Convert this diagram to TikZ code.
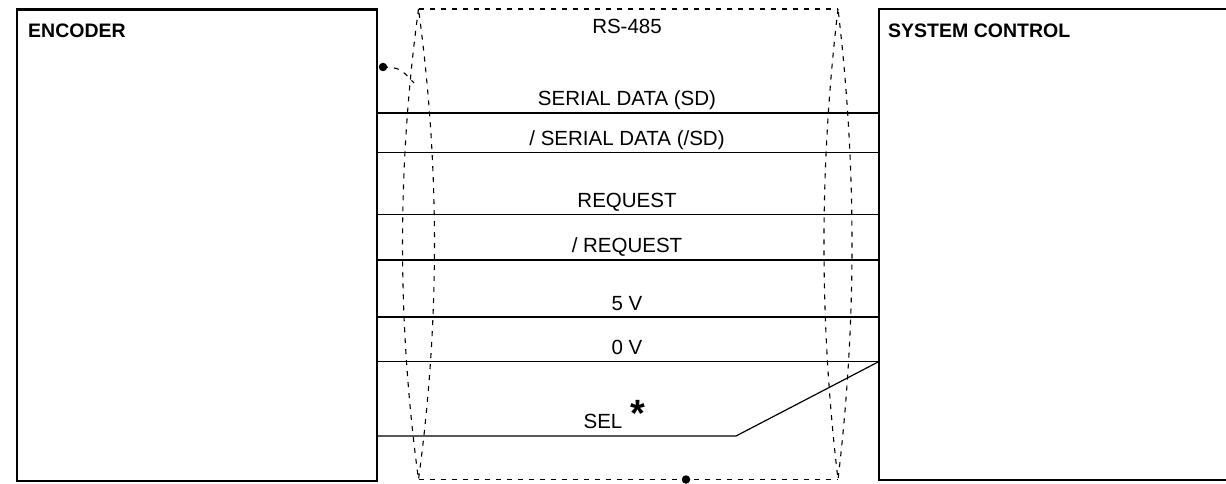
\documentclass[tikz,border=0pt]{standalone}
\usepackage{fontspec}
\setmainfont{Liberation Sans}
\begin{document}
\begin{tikzpicture}[x=1pt,y=-1pt,
  box/.style={line width=2.4pt},
  sig/.style={line width=1.2pt},
  shield/.style={line width=1.1pt, dash pattern=on 5pt off 6pt},
  lbl/.style={font=\fontsize{20.5}{24}\selectfont, anchor=base, inner sep=0pt},
  ttl/.style={font=\bfseries\fontsize{19.5}{24}\selectfont, anchor=base west, inner sep=0pt},
  dotst/.style={circle, fill=black, inner sep=0pt, minimum size=8.5pt}]
\useasboundingbox (0,0) rectangle (1226,484);

% boxes
\node[draw, box, inner sep=0pt, minimum width=360pt, minimum height=471.5pt, anchor=north west] (enc) at (16,8.5) {};
\coordinate (scTR) at (1232,9);
\coordinate (scTL) at (879,9);
\coordinate (scBL) at (879,480);
\coordinate (scBR) at (1232,480);
\draw[box] (scTR) -- (scTL) -- (scBL) -- (scBR);
\node[ttl] (encl) at (28,38) {ENCODER};
\node[ttl] (scl) at (888,38) {SYSTEM CONTROL};

% shield
\coordinate (shTL) at (418.5,9);
\coordinate (shBL) at (418.5,479.5);
\coordinate (shTR) at (838,9);
\coordinate (shBR) at (838,479.5);
\draw[shield] (shTL) -- (shTR);
\draw[shield] (shBL) -- (shBR);
\draw[shield] (shTL) .. controls (397.2,165.7) and (397.2,322.8) .. (shBL)
              .. controls (439.8,322.8) and (439.8,165.7) .. (shTL);
\draw[shield] (shTR) .. controls (819.3,165.7) and (819.3,322.8) .. (shBR)
              .. controls (856.7,322.8) and (856.7,165.7) .. (shTR);
\node[dotst] (dotA) at (383,67) {};
\coordinate (dotAend) at (414,83);
\draw[shield] (dotA.center) .. controls (400,68) .. (dotAend);
\node[dotst] (dotB) at (686,479.5) {};
\node[lbl] (rs) at (627,34) {RS-485};

% signal lines
\foreach \nm/\yy in {sd/113, nsd/152.5, req/214.5, nreq/260, fv/317, zv/361.5}{
  \coordinate (\nm L) at (376,\yy);
  \coordinate (\nm R) at (879,\yy);
  \draw[sig] (\nm L) -- (\nm R);
}
\coordinate (selL) at (376,436);
\coordinate (selK) at (736,436);
\draw[sig] (selL) -- (selK) -- (zvR);

\node[lbl] (tsd) at (627,106) {SERIAL DATA (SD)};
\node[lbl] (tnsd) at (627,145.5) {/ SERIAL DATA (/SD)};
\node[lbl] (treq) at (627,207.5) {REQUEST};
\node[lbl] (tnreq) at (627,252.5) {/ REQUEST};
\node[lbl] (tfv) at (627,310) {5 V};
\node[lbl] (tzv) at (627,354.5) {0 V};
\node[lbl] (tsel) at (603,428) {SEL};
\node[font=\bfseries\fontsize{38}{38}\selectfont, inner sep=0pt] (ast) at (637.5,413) {*};
\end{tikzpicture}
\end{document}
